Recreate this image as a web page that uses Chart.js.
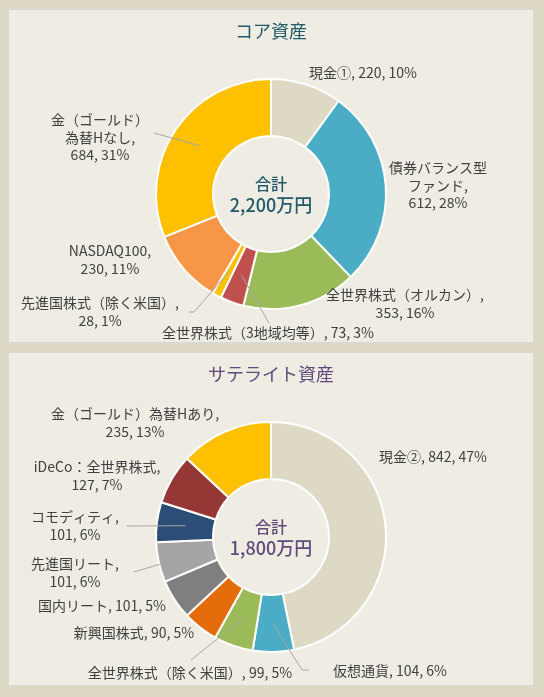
<!DOCTYPE html>
<html><head><meta charset="utf-8">
<script src="https://cdn.jsdelivr.net/npm/chart.js@4.4.0/dist/chart.umd.min.js"></script>
<style>
html,body{margin:0;padding:0;background:#ddd9c4;width:544px;height:697px;overflow:hidden}
.panel{position:absolute;left:8px;width:526px;height:334px;background:#efede3;box-sizing:border-box;border:1px solid #d6d9dc}
canvas{position:absolute;left:8px;}
</style></head><body>
<div class="panel" style="top:9px"></div>
<div class="panel" style="top:352px"></div>
<canvas id="c1" width="526" height="334" style="top:9px;width:526px;height:334px"></canvas>
<canvas id="c2" width="526" height="334" style="top:352px;width:526px;height:334px"></canvas>
<script>
// ---- data ----
const coreCategories = ['現金①','債券バランス型ファンド','全世界株式（オルカン）','全世界株式（3地域均等）','先進国株式（除く米国）','NASDAQ100','金（ゴールド）為替Hなし'];
const coreValues = [220, 612, 353, 73, 28, 230, 684];
const corePercents = [10, 28, 16, 3, 1, 11, 31];
const coreColors = ['#ddd9c4','#4bacc6','#9bbb59','#c0504d','#ffc000','#f79646','#ffc000'];
const coreTotalText = ['合計','2,200万円'];

const satCategories = ['現金②','仮想通貨','全世界株式（除く米国）','新興国株式','国内リート','先進国リート','コモディティ','iDeCo：全世界株式','金（ゴールド）為替Hあり'];
const satValues = [842, 104, 99, 90, 101, 101, 101, 127, 235];
const satPercents = [47, 6, 5, 5, 5, 6, 6, 7, 13];
const satColors = ['#ddd9c4','#4bacc6','#9bbb59','#e46c0a','#7f7f7f','#a5a5a5','#2c4d75','#953735','#ffc000'];
const satTotalText = ['合計','1,800万円'];

// ---- label layout (text placement relative to chart centre) ----
const coreLabelLayout = [
  {dx:92, dy:-121, mode:'one'},
  {dx:167, dy:-26, mode:'two', brk:7},
  {dx:134, dy:101, mode:'two'},
  {dx:-3, dy:139, mode:'one', leader:[[-2,129]]},
  {dx:-171, dy:109, mode:'two', leader:[[-82,118],[-77,118]]},
  {dx:-161, dy:57, mode:'two'},
  {dx:-171, dy:-74, mode:'two', brk:7, leader:[[-117,-61]]}
];
const satLabelLayout = [
  {dx:162, dy:-80, mode:'one'},
  {dx:119, dy:134, mode:'one', leader:[[38,133],[31,133]]},
  {dx:-81, dy:136, mode:'one', leader:[[-80,123]]},
  {dx:-137, dy:96, mode:'one'},
  {dx:-169, dy:69, mode:'one'},
  {dx:-196, dy:27, mode:'two', leader:[[-137,35]]},
  {dx:-196, dy:-20, mode:'two', leader:[[-144,-11]]},
  {dx:-174, dy:-70, mode:'two'},
  {dx:-136, dy:-123, mode:'two'}
];

const FONT = '"Noto Sans CJK JP","Noto Sans",sans-serif';

function buildLines(name, v, p, lay){
  if (lay.brk) return [name.slice(0, lay.brk), name.slice(lay.brk) + ',', v + ', ' + p + '%'];
  if (lay.mode === 'one') return [name + ', ' + v + ', ' + p + '%'];
  return [name + ',', v + ', ' + p + '%'];
}

const labelPlugin = {
  id: 'sliceLabels',
  afterDatasetsDraw(chart, args, opts) {
    const ctx = chart.ctx;
    const meta = chart.getDatasetMeta(0);
    const arcs = meta.data;
    if (!arcs.length) return;
    const cx = arcs[0].x, cy = arcs[0].y;
    ctx.save();
    arcs.forEach((arc, i) => {
      const lay = opts.layout[i];
      if (lay.leader) {
        const tp = arc.tooltipPosition();
        ctx.beginPath();
        ctx.strokeStyle = '#a6a6a6';
        ctx.lineWidth = 1;
        lay.leader.forEach((pt, k) => {
          if (k === 0) ctx.moveTo(cx + pt[0], cy + pt[1]); else ctx.lineTo(cx + pt[0], cy + pt[1]);
        });
        ctx.lineTo(tp.x, tp.y);
        ctx.stroke();
      }
      const lines = buildLines(chart.data.labels[i], chart.data.datasets[0].data[i], opts.percents[i], lay);
      ctx.fillStyle = '#404040';
      ctx.font = '14px ' + FONT;
      ctx.textAlign = 'center';
      ctx.textBaseline = 'middle';
      lines.forEach((t, k) => ctx.fillText(t, cx + lay.dx, cy + lay.dy + k * 17.5));
    });
    // centre text
    ctx.fillStyle = opts.centerColor;
    ctx.font = '500 16px ' + FONT;
    ctx.fillText(opts.centerText[0], cx, cy - 10);
    ctx.font = '500 18px ' + FONT;
    ctx.fillText(opts.centerText[1], cx, cy + 11);
    ctx.restore();
  }
};

function makeChart(id, title, titleColor, cats, vals, cols, pcts, layout, centerText) {
  return new Chart(document.getElementById(id), {
    type: 'doughnut',
    data: {
      labels: cats,
      datasets: [{ data: vals, backgroundColor: cols, borderColor: '#ffffff', borderWidth: 2, hoverOffset: 0 }]
    },
    options: {
      responsive: false,
      animation: false,
      radius: 115,
      cutout: '50.4%',
      layout: { padding: { left: 0, right: 0, top: 0, bottom: 6.6 } },
      events: [],
      plugins: {
        legend: { display: false },
        tooltip: { enabled: false },
        title: { display: true, text: title, color: titleColor, font: { size: 18, family: FONT, weight: 'normal' }, padding: { top: 11, bottom: 10 } },
        sliceLabels: { layout: layout, percents: pcts, centerText: centerText, centerColor: titleColor }
      }
    },
    plugins: [labelPlugin]
  });
}

makeChart('c1', 'コア資産', '#215968', coreCategories, coreValues, coreColors, corePercents, coreLabelLayout, coreTotalText);
makeChart('c2', 'サテライト資産', '#604a7b', satCategories, satValues, satColors, satPercents, satLabelLayout, satTotalText);
</script>
</body></html>
